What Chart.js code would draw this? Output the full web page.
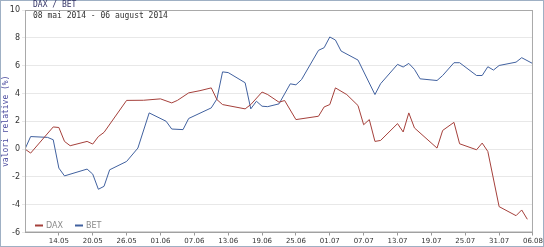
<!DOCTYPE html>
<html>
<head>
<meta charset="utf-8">
<script src="https://cdn.jsdelivr.net/npm/chart.js@4.4.1/dist/chart.umd.min.js"></script>
<style>
  html, body { margin: 0; padding: 0; background: #fff; }
  #wrap { width: 544px; height: 247px; position: relative; }
</style>
</head>
<body>
<div id="wrap"><canvas id="chartIndici"></canvas></div>
<script>
// zile de la 08.05.2014 (ziua 0)
const tickDays = [6, 12, 18, 24, 30, 36, 42, 48, 54, 60, 66, 72, 78, 84, 90];
const tickLabels = ['14.05','20.05','26.05','01.06','07.06','13.06','19.06','25.06','01.07','07.07','13.07','19.07','25.07','31.07','06.08'];

const daxDays = [0,1,5,6,7,8,11,12,13,14,18,21,24,26,27,29,31,33,34,35,39,40,42,43,45,46,48,52,53,54,55,57,59,60,61,62,63,66,67,68,69,73,74,76,77,80,81,82,84,87,88,89];
const daxValues = [0,-0.29,1.59,1.55,0.55,0.24,0.55,0.36,0.9,1.2,3.5,3.51,3.61,3.32,3.5,4.04,4.2,4.4,3.56,3.2,2.89,3.2,4.1,3.92,3.37,3.49,2.12,2.36,3.03,3.2,4.4,3.92,3.13,1.75,2.12,0.55,0.62,1.83,1.23,2.6,1.52,0.07,1.34,1.92,0.38,-0.05,0.43,-0.17,-4.14,-4.79,-4.38,-5.05];

const betDays = [0,1,4,5,6,7,11,12,13,14,15,18,20,22,25,26,28,29,33,34,35,36,39,40,41,42,43,45,47,48,49,52,53,54,55,56,59,62,63,66,67,68,69,70,73,74,76,77,80,81,82,83,84,87,88,90];
const betValues = [0,0.9,0.84,0.67,-1.37,-1.93,-1.44,-1.8,-2.89,-2.68,-1.49,-0.89,0.07,2.6,2.0,1.44,1.4,2.2,2.96,3.6,5.55,5.5,4.77,2.89,3.44,3.08,3.05,3.25,4.69,4.62,5.0,7.1,7.29,8.06,7.84,7.05,6.4,3.92,4.7,6.09,5.9,6.16,5.73,5.05,4.93,5.29,6.21,6.21,5.29,5.29,5.92,5.68,6.01,6.25,6.57,6.14];

const toPoints = (days, vals) => days.map((d, i) => ({ x: d, y: vals[i] }));

const decor = {
  id: 'decor',
  afterDraw(chart) {
    const { ctx, chartArea: a } = chart;
    ctx.save();
    // chenar zona grafic
    ctx.strokeStyle = '#a9a9a9';
    ctx.lineWidth = 1;
    ctx.strokeRect(a.left + 0.5, a.top + 0.5, a.right - a.left - 1, a.bottom - a.top - 1);
    // chenar exterior
    ctx.strokeStyle = '#9fb0c4';
    ctx.strokeRect(0.5, 0.5, chart.width - 1, chart.height - 1);

    ctx.textBaseline = 'middle';
    ctx.textAlign = 'left';
    ctx.font = '8px "DejaVu Sans Mono"';
    ctx.fillStyle = '#333366';
    ctx.fillText('DAX / BET', 33, 5);
    ctx.fillStyle = '#333';
    ctx.fillText('08 mai 2014 - 06 august 2014', 33, 16);

    // eticheta axa y
    ctx.save();
    ctx.translate(6, (a.top + a.bottom) / 2);
    ctx.rotate(-Math.PI / 2);
    ctx.textAlign = 'center';
    ctx.fillStyle = '#4a4a9e';
    ctx.fillText('valori relative (%)', 0, 0);
    ctx.restore();

    // legenda jos-stanga
    let x = a.left + 10;
    const y = a.bottom - 7;
    ctx.font = '8px "DejaVu Sans"';
    chart.data.datasets.forEach(ds => {
      ctx.strokeStyle = ds.borderColor;
      ctx.lineWidth = 2;
      ctx.beginPath();
      ctx.moveTo(x, y);
      ctx.lineTo(x + 8, y);
      ctx.stroke();
      ctx.fillStyle = '#8a8a8a';
      ctx.fillText(ds.label, x + 11, y);
      x += 40;
    });
    ctx.restore();
  }
};

const ctxIndici = document.getElementById('chartIndici');

new Chart(ctxIndici, {
  type: 'line',
  data: {
    datasets: [{
      label: 'DAX',
      data: toPoints(daxDays, daxValues),
      borderColor: '#a5403b',
      borderWidth: 1,
      pointRadius: 0,
      tension: 0
    },
    {
      label: 'BET',
      data: toPoints(betDays, betValues),
      borderColor: '#41619f',
      borderWidth: 1,
      pointRadius: 0,
      tension: 0
    }]
  },
  options: {
    responsive: true,
    maintainAspectRatio: false,
    animation: false,
    layout: { padding: { top: 10, right: 4, left: 0, bottom: 0 } },
    scales: {
      x: {
        type: 'linear',
        min: 0,
        max: 90,
        afterFit: s => { s.height = 14.5; },
        afterBuildTicks: s => { s.ticks = tickDays.map(v => ({ value: v })); },
        grid: { drawOnChartArea: false, tickLength: 3, color: '#999' },
        border: { color: '#999' },
        ticks: {
          autoSkip: false,
          maxRotation: 0,
          padding: 1,
          color: '#333',
          font: { family: 'DejaVu Sans', size: 7 },
          callback: v => tickLabels[tickDays.indexOf(v)] || ''
        }
      },
      y: {
        min: -6,
        max: 10,
        afterFit: s => { s.width = 25; },
        grid: { color: '#e8e8e8', tickLength: 3 },
        border: { color: '#999' },
        ticks: {
          stepSize: 2,
          padding: 2,
          color: '#333',
          font: { family: 'DejaVu Sans', size: 8 }
        }
      }
    },
    plugins: {
      legend: { display: false },
      tooltip: { enabled: false }
    }
  },
  plugins: [decor]
});
</script>
</body>
</html>
